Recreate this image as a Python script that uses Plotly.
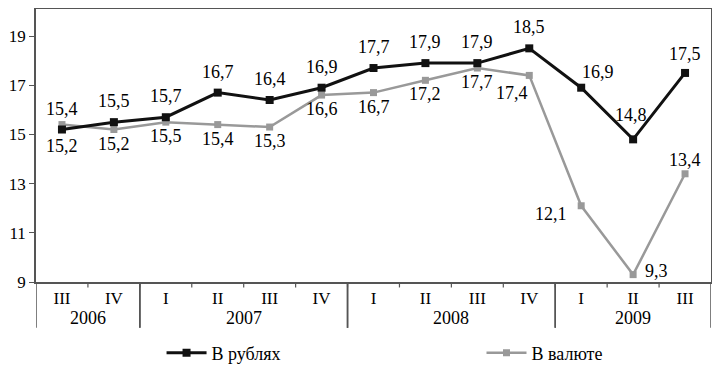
import plotly.graph_objects as go

years = ["2006", "2006", "2007", "2007", "2007", "2007", "2008", "2008", "2008", "2008", "2009", "2009", "2009"]
quarters = ["III", "IV", "I", "II", "III", "IV", "I", "II", "III", "IV", "I", "II", "III"]
rub = [15.2, 15.5, 15.7, 16.7, 16.4, 16.9, 17.7, 17.9, 17.9, 18.5, 16.9, 14.8, 17.5]
val = [15.4, 15.2, 15.5, 15.4, 15.3, 16.6, 16.7, 17.2, 17.7, 17.4, 12.1, 9.3, 13.4]
yticks = [9, 11, 13, 15, 17, 19]

def fmt(v):
    return f"{v:.1f}".replace(".", ",")

idx = list(range(len(quarters)))
# label offsets in pixels (dx right, dy down)
rub_off = [(0, 16)] + [(0, -21)] * 9 + [(17, -16), (-2, -24), (0, -19)]
val_off = [(0, -16)] + [(0, 14)] * 8 + [(-17, 18), (-30, 8), (23, -4), (0, -14)]

FONT = "Times New Roman, Liberation Serif, DejaVu Serif, serif"
AX = "#555555"

fig = go.Figure()
fig.add_trace(go.Scatter(
    x=idx, y=val, name="В валюте", legend="legend2",
    mode="lines+markers",
    line=dict(color="#999999", width=2.5),
    marker=dict(symbol="square", size=7, color="#999999"),
    cliponaxis=False,
))
fig.add_trace(go.Scatter(
    x=idx, y=rub, name="В рублях", legend="legend",
    mode="lines+markers",
    line=dict(color="#111111", width=3),
    marker=dict(symbol="square", size=8, color="#111111"),
    cliponaxis=False,
))

annotations = []
for series, offs in ((rub, rub_off), (val, val_off)):
    for i, v in enumerate(series):
        dx, dy = offs[i]
        annotations.append(dict(x=idx[i], y=v, xref="x", yref="y", text=fmt(v), showarrow=False,
                                xanchor="center", yanchor="middle", xshift=dx, yshift=-dy,
                                font=dict(family=FONT, size=18, color="black")))

groups = []
for i, y in enumerate(years):
    if not groups or groups[-1][0] != y:
        groups.append([y, i, i])
    else:
        groups[-1][2] = i

shapes = []
for y, s, e in groups:
    annotations.append(dict(x=(s + e) / 2, y=-0.132, xref="x", yref="paper", text=y,
                            showarrow=False, yanchor="middle",
                            font=dict(family=FONT, size=18, color="black")))
    for b in (s - 0.5, e + 0.5):
        shapes.append(dict(type="line", xref="x", yref="paper", x0=b, x1=b, y0=0, y1=-0.168,
                           line=dict(color=AX, width=1.5)))
for i in idx[:-1]:
    shapes.append(dict(type="line", xref="x", yref="paper", x0=i + 0.5, x1=i + 0.5, y0=0, y1=-0.02,
                       line=dict(color=AX, width=1.2)))

fig.update_layout(
    width=712, height=362,
    margin=dict(l=28, r=9, t=1, b=88, autoexpand=False),
    paper_bgcolor="white", plot_bgcolor="white",
    font=dict(family=FONT, size=17, color="black"),
    showlegend=True,
    legend=dict(x=0.186, y=-0.26, xanchor="left", yanchor="middle", itemwidth=40,
                font=dict(family=FONT, size=18, color="black"), bgcolor="rgba(0,0,0,0)"),
    legend2=dict(x=0.66, y=-0.26, xanchor="left", yanchor="middle", itemwidth=40,
                 font=dict(family=FONT, size=18, color="black"), bgcolor="rgba(0,0,0,0)"),
    xaxis=dict(range=[-0.5, len(idx) - 0.5], tickvals=idx, ticktext=quarters,
               showline=True, linecolor=AX, linewidth=1.5, mirror=True, ticks="",
               showgrid=False, zeroline=False, automargin=False,
               tickfont=dict(family=FONT, size=17, color="black")),
    yaxis=dict(range=[9, 20.1], tickvals=yticks, showline=True, linecolor=AX,
               linewidth=1.5, mirror=True, ticks="outside", ticklen=5, tickcolor=AX,
               showgrid=False, zeroline=False, automargin=False,
               tickfont=dict(family=FONT, size=17, color="black")),
    shapes=shapes,
    annotations=annotations,
)

fig.write_html("out.html")
